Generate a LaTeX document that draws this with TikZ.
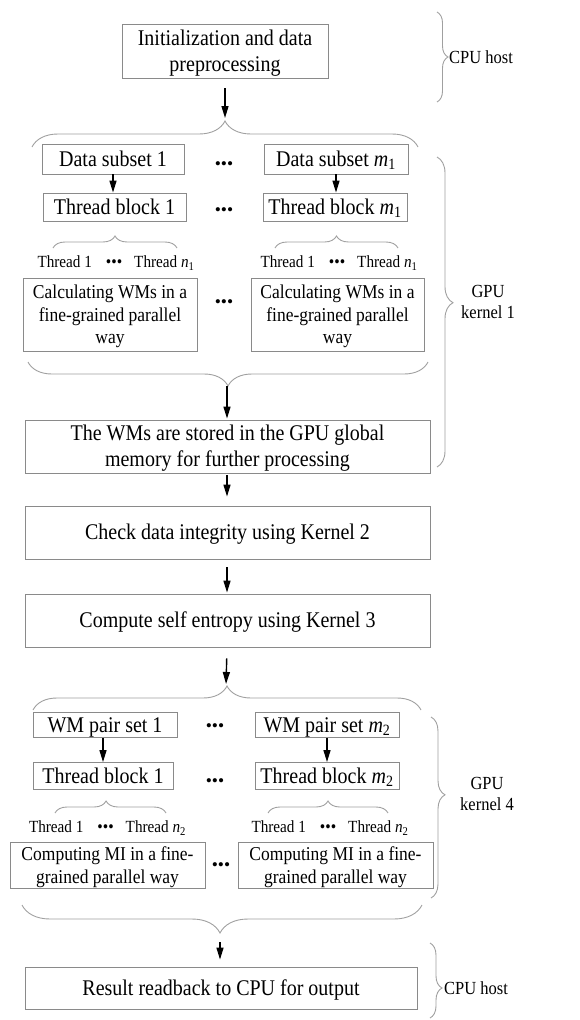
\documentclass[tikz,border=0pt]{standalone}
\usepackage{graphicx}
\usepackage{fontspec}
\setmainfont{Liberation Serif}
\usetikzlibrary{arrows.meta,decorations.pathreplacing}

\definecolor{boxline}{HTML}{8A8A8A}
\definecolor{braceline}{HTML}{A0A0A0}

\tikzset{
  box/.style={draw=boxline, line width=0.9pt, inner sep=0pt, align=center,
              font=\fontsize{20}{23}\selectfont},
  smallbox/.style={box, font=\fontsize{17.5}{20.3}\selectfont},
  flow/.style={draw=black, line width=1.4pt,
               -{Triangle[length=12pt,width=7pt]}},
  curly/.style={draw=braceline, line width=0.9pt,
                decorate, decoration={brace, amplitude=#1}},
  curly/.default=26pt,
  dots/.style={inner sep=0pt, font=\fontsize{17.5}{17.5}\selectfont},
  threads/.style={inner sep=0pt, font=\fontsize{15.2}{17}\selectfont},
  side/.style={inner sep=0pt, align=center, font=\fontsize{16.5}{18}\selectfont},
}

% tall text block: lines centred, letters slightly stretched upright
\newcommand{\tx}[1]{\raisebox{-2pt}[\height][\depth]{\scalebox{1}[1.12]{\begin{tabular}{@{}c@{}}#1\end{tabular}}}}
\newcommand{\thr}[1]{\tx{Thread 1\hspace{14pt}\raisebox{0.5pt}{\fontsize{15.5}{15.5}\selectfont •••}\hspace{12pt}Thread \textit{n}\textsubscript{#1}}}

\begin{document}
\begin{tikzpicture}[x=1pt,y=-1pt]
\useasboundingbox (0,0) rectangle (579,1020);

% ---------- CPU host: initialisation ----------
\node[box, minimum width=206pt, minimum height=54pt] (init) at (225,51)
  {\tx{Initialization and data\\preprocessing}};

% ---------- GPU kernel 1 ----------
\node[box, minimum width=142pt, minimum height=30pt] (ds1) at (113,159) {\tx{Data subset 1}};
\node[box, minimum width=144pt, minimum height=30pt] (dsm) at (336,159) {\tx{Data subset \textit{m}\textsubscript{1}}};
\node[box, minimum width=143pt, minimum height=28pt] (tb1) at (114.5,207) {\tx{Thread block 1}};
\node[box, minimum width=144pt, minimum height=28pt] (tbm) at (335,207) {\tx{Thread block \textit{m}\textsubscript{1}}};
\node[dots] (d1) at (224,166) {•••};
\node[dots] (d2) at (224,212) {•••};

\node[threads] (th1) at (116,262) {\thr{1}};
\node[threads] (thm) at (339,262) {\thr{1}};

\node[smallbox, minimum width=174pt, minimum height=73pt] (calc1) at (110,314.5)
  {\tx{Calculating WMs in a\\fine-grained parallel\\way}};
\node[smallbox, minimum width=173pt, minimum height=73pt] (calcm) at (337.5,314.5)
  {\tx{Calculating WMs in a\\fine-grained parallel\\way}};
\node[dots] (d3) at (224,304) {•••};

\node[box, minimum width=405pt, minimum height=53pt] (wms) at (227.5,446.5)
  {\tx{The WMs are stored in the GPU global\\memory for further processing}};

% ---------- kernels 2 and 3 ----------
\node[box, minimum width=405pt, minimum height=53pt] (check) at (227.5,532.5)
  {\tx{Check data integrity using Kernel 2}};
\node[box, minimum width=405pt, minimum height=53pt] (entropy) at (227.5,620.5)
  {\tx{Compute self entropy using Kernel 3}};

% ---------- GPU kernel 4 ----------
\node[box, minimum width=144pt, minimum height=24pt] (wp1) at (105,725) {\tx{WM pair set 1}};
\node[box, minimum width=144pt, minimum height=24pt] (wpm) at (327,725) {\tx{WM pair set \textit{m}\textsubscript{2}}};
\node[box, minimum width=140pt, minimum height=27pt] (kb1) at (103,776) {\tx{Thread block 1}};
\node[box, minimum width=144pt, minimum height=27pt] (kbm) at (327,776) {\tx{Thread block \textit{m}\textsubscript{2}}};
\node[dots] (d4) at (215,728) {•••};
\node[dots] (d5) at (215,783) {•••};

\node[threads] (kt1) at (107.5,827) {\thr{2}};
\node[threads] (ktm) at (330,827) {\thr{2}};

\node[smallbox, minimum width=195pt, minimum height=43pt] (mi1) at (107.5,865.5)
  {\tx{Computing MI in a fine-\\grained parallel way}};
\node[smallbox, minimum width=195pt, minimum height=43pt] (mim) at (335.5,865.5)
  {\tx{Computing MI in a fine-\\grained parallel way}};
\node[dots] (d6) at (221,867) {•••};

% ---------- CPU host: output ----------
\node[box, minimum width=392pt, minimum height=42pt] (result) at (221,988)
  {\tx{Result readback to CPU for output}};

% ---------- braces ----------
\draw[curly] (32,147) coordinate (b1l) -- (418,147) coordinate (b1r);
\coordinate (b1tip) at (225,121);
\draw[curly=11pt, decoration={aspect=0.5}] (437,12) -- (437,102);
\draw[curly=12pt] (53,248) -- (177,248);
\draw[curly=12pt] (275,248) -- (398,248);
\draw[curly=24pt, decoration={aspect=0.5}] (428,362) -- (28,362);
\coordinate (b2tip) at (227,386);
\draw[curly=16pt, decoration={aspect=0.47}] (437,157) -- (437,467);

\draw[curly=24pt] (33,710) -- (421,710);
\coordinate (b3tip) at (226,686);
\draw[curly=12pt, decoration={aspect=0.46}] (55,813) -- (166,813);
\draw[curly=12pt] (268,813) -- (388,813);
\draw[curly=28pt, decoration={aspect=0.505}] (422,905) -- (22,905);
\coordinate (b4tip) at (220,933);
\draw[curly=14pt, decoration={aspect=0.43}] (431,717) -- (431,898);
\draw[curly=12pt, decoration={aspect=0.6}] (430,943) -- (430,1018);

% ---------- side labels ----------
\node[side, anchor=west] (cpu1) at (449,57) {\tx{CPU host}};
\node[side] (gpu1) at (488,302) {\tx{GPU\\kernel 1}};
\node[side] (gpu4) at (487,794) {\tx{GPU\\kernel 4}};
\node[side, anchor=west] (cpu2) at (444,988) {\tx{CPU host}};

% ---------- arrows ----------
\draw[flow, shorten <=10pt, shorten >=3pt] (init.south) -- (b1tip);
\draw[flow] (ds1.south) -- (tb1.north -| ds1.south);
\draw[flow] (dsm.south) -- (tbm.north -| dsm.south);
\draw[flow, shorten >=1pt] (b2tip) -- (wms.north -| b2tip);
\draw[flow, shorten <=2pt, shorten >=9pt] (wms.south -| b2tip) -- (check.north -| b2tip);
\draw[flow, shorten <=8pt, shorten >=1pt] (check.south -| b2tip) -- (entropy.north -| b2tip);
\draw[flow, shorten <=11pt, shorten >=2pt] (entropy.south -| b2tip) -- (b3tip);
\draw[flow] (wp1.south -| kb1.north) -- (kb1.north);
\draw[flow] (wpm.south) -- (kbm.north);
\draw[flow, shorten <=9pt, shorten >=7pt] (b4tip) -- (result.north -| b4tip);
\end{tikzpicture}
\end{document}
